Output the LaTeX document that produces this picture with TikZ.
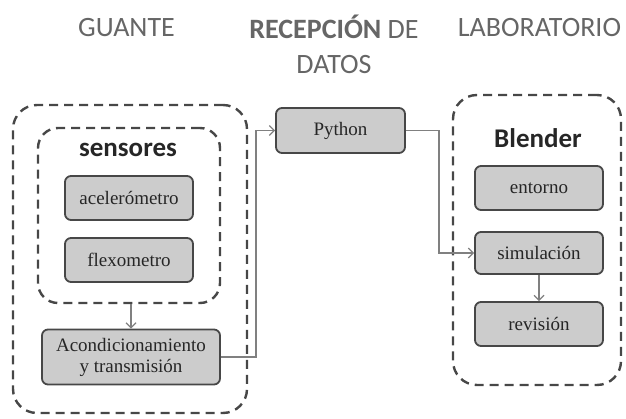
\documentclass[tikz,border=0pt]{standalone}
\usepackage{fontspec}
\setmainfont{Liberation Serif}
\newfontfamily\calfont{Carlito}
\usetikzlibrary{arrows.meta}
\begin{document}
\begin{tikzpicture}[x=1pt,y=-1pt,
 box/.style={draw=black!72, line width=1.8pt, fill=gray!40, rounded corners=6pt, minimum width=128pt, minimum height=44pt, inner sep=0pt, text=black!85, font=\fontsize{19}{20}\selectfont, align=center},
 grp/.style={draw=black!72, line width=2.4pt, dash pattern=on 9pt off 6pt, rounded corners=24pt, inner sep=0pt},
 conn/.style={draw=gray, line width=1.2pt, -{Straight Barb[length=5pt,width=10pt]}},
 title/.style={font=\calfont\fontsize{28}{35}\selectfont, text=black!60, align=center},
 grplabel/.style={font=\calfont\bfseries\fontsize{27}{30}\selectfont, text=black!85}]
\useasboundingbox (0,0) rectangle (626,419);
% titles
\node[title, anchor=base] (t1) at (126.5,37) {GUANTE};
\node[title] (t2) at (334,44) {{\bfseries RECEPCIÓN} DE\\DATOS};
\node[title, anchor=base] (t3) at (539.5,37) {LABORATORIO};
% groups
\node[grp, minimum width=234pt, minimum height=308pt] (outer) at (130,259) {};
\node[grp, minimum width=182pt, minimum height=175pt, rounded corners=20pt] (sens) at (129,215.5) {};
\node[grp, minimum width=168pt, minimum height=290pt] (blend) at (537,240) {};
\node[grplabel] (sl) at (128,150) {sensores};
\node[grplabel] (bl) at (538,138) {Blender};
% boxes
\node[box] (acc) at (129,198) {acelerómetro};
\node[box] (flex) at (129,260) {flexometro};
\node[box, minimum width=178pt, minimum height=55pt, font=\fontsize{19}{21}\selectfont] (acond) at (131,357) {Acondicionamiento\\y transmisión};
\node[box, minimum width=129pt, minimum height=45pt] (py) at (340.5,130.5) {Python};
\node[box] (ent) at (539,188) {entorno};
\node[box, minimum height=42pt] (sim) at (539,253) {simulación};
\node[box] (rev) at (539,324) {revisión};
% connectors
\draw[conn] (acond.north |- sens.south) -- (acond.north);
\draw[conn] (acond.east) -- ++(35,0) |- (py.west);
\draw[conn] (py.east) -- ++(33,0) |- (sim.west);
\draw[conn] (sim.south) -- (rev.north);
\end{tikzpicture}
\end{document}
